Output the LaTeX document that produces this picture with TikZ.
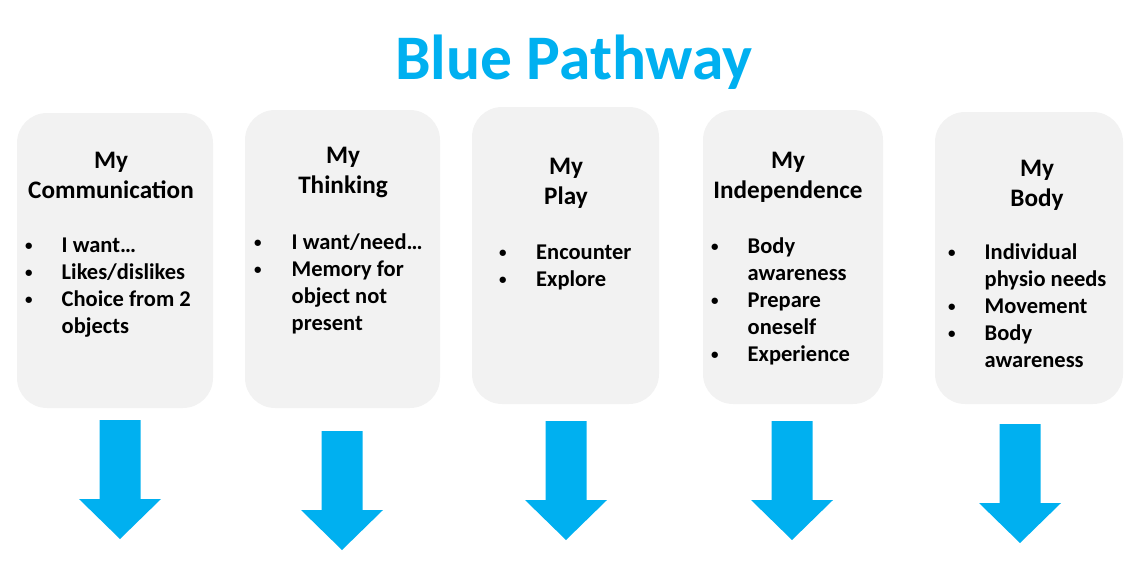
\documentclass[tikz,border=0pt]{standalone}
\usepackage{fontspec}
\setmainfont{Carlito}
\usetikzlibrary{positioning}

\definecolor{pathblue}{RGB}{0,176,240}
\definecolor{cardgray}{RGB}{242,242,242}

% vineta pequena
\newcommand{\bul}{\raisebox{1.5pt}{\fontsize{15}{15}\selectfont\textbullet}}

% flecha azul hacia abajo: centro x, borde superior y
\newcommand{\patharrow}[2]{%
  \fill[pathblue] (#1-20.5,#2) -- (#1+20.5,#2) -- (#1+20.5,#2+79) -- (#1+41,#2+79)
    -- (#1,#2+119) -- (#1-41,#2+79) -- (#1-20.5,#2+79) -- cycle;}

\begin{document}
\begin{tikzpicture}[
			x=1pt, y=-1pt,
			card/.style={
				rectangle,
				inner sep=0pt,
				fill=cardgray,
				rounded corners=30pt
			},
			head/.style={
				anchor=base,
				inner sep=0pt,
				font=\fontsize{25.2}{30}\selectfont\bfseries
			},
			items/.style={
				anchor=base west,
				inner sep=0pt,
				font=\fontsize{22.5}{27}\selectfont\bfseries
			},
			title/.style={
				anchor=base,
				inner sep=0pt,
				text=pathblue,
				font=\fontsize{63.5}{70}\selectfont\bfseries
			}
			]
			\useasboundingbox (0,0) rectangle (1140,579);
			
			% Titulo
			\node[title] (title) at (574,79) {Blue Pathway};
			
			% Tarjetas
			\node[card, minimum width=196pt, minimum height=295pt] (comm) at (115,260.5) {};
			\node[card, minimum width=195pt, minimum height=298pt] (think) at (342.5,259) {};
			\node[card, minimum width=187pt, minimum height=297pt] (play) at (565.5,255.5) {};
			\node[card, minimum width=180pt, minimum height=294pt] (indep) at (793,257) {};
			\node[card, minimum width=188pt, minimum height=292pt] (body) at (1029,258) {};
			
			% Encabezados
			\node[head] (commhead) at (111,168) {\begin{tabular}[t]{@{}c@{}}My\\Communication\end{tabular}};
			\node[head] (thinkhead) at (343,163) {\begin{tabular}[t]{@{}c@{}}My\\Thinking\end{tabular}};
			\node[head] (playhead) at (566,174) {\begin{tabular}[t]{@{}c@{}}My\\Play\end{tabular}};
			\node[head] (indephead) at (788,168) {\begin{tabular}[t]{@{}c@{}}My\\Independence\end{tabular}};
			\node[head] (bodyhead) at (1037,176) {\begin{tabular}[t]{@{}c@{}}My\\Body\end{tabular}};
			
			% Listas
			\node[items] (commlist) at (25,252) {\begin{tabular}[t]{@{}p{36.5pt}@{}l@{}}
				\bul & I want… \\
				\bul & Likes/dislikes \\
				\bul & Choice from 2 \\
				& objects
			\end{tabular}};
			\node[items] (thinklist) at (254,249) {\begin{tabular}[t]{@{}p{37.5pt}@{}l@{}}
				\bul & I want/need… \\
				\bul & Memory for \\
				& object not \\
				& present
			\end{tabular}};
			\node[items] (playlist) at (499,259) {\begin{tabular}[t]{@{}p{37pt}@{}l@{}}
				\bul & Encounter \\
				\bul & Explore
			\end{tabular}};
			\node[items] (indeplist) at (711,253) {\begin{tabular}[t]{@{}p{36.5pt}@{}l@{}}
				\bul & Body \\
				& awareness \\
				\bul & Prepare \\
				& oneself \\
				\bul & Experience
			\end{tabular}};
			\node[items] (bodylist) at (948,259) {\begin{tabular}[t]{@{}p{36.5pt}@{}l@{}}
				\bul & Individual \\
				& physio needs \\
				\bul & Movement \\
				\bul & Body \\
				& awareness
			\end{tabular}};
			
			% Flechas
			\patharrow{120}{420}
			\patharrow{342}{431}
			\patharrow{566}{421}
			\patharrow{792}{421}
			\patharrow{1020}{424}
			
		\end{tikzpicture}
\end{document}
